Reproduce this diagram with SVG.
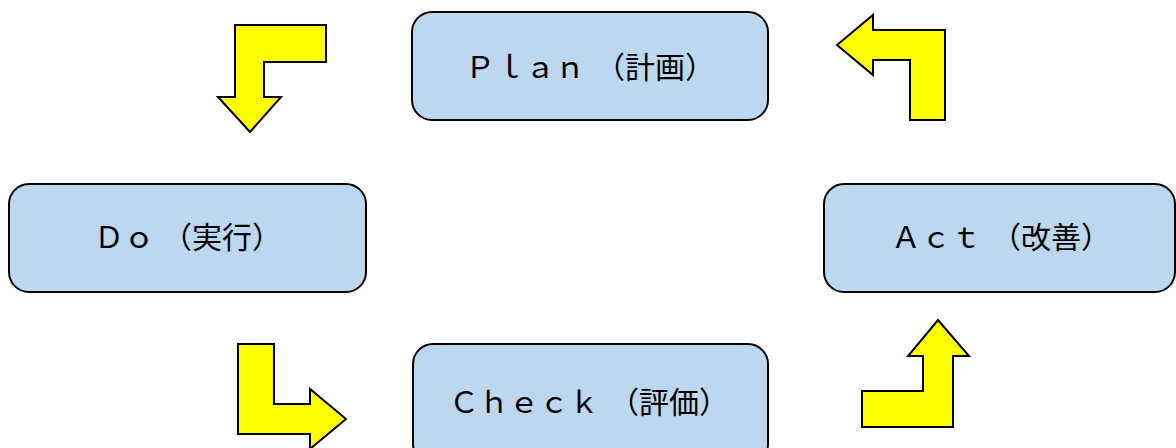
<svg xmlns="http://www.w3.org/2000/svg" width="1176" height="448" viewBox="0 0 1176 448">
<style>
.box{fill:#BDD7EE;stroke:#000;stroke-width:2}
.lbl{font-family:"Noto Sans CJK JP","Noto Sans CJK SC",sans-serif;font-size:30px;fill:#000;text-anchor:middle}
.arr{fill:#FFFF00;stroke:#000;stroke-width:2;stroke-linejoin:miter}
</style>
<rect width="1176" height="448" fill="#fff"/>
<g id="plan"><rect class="box" x="412" y="12" width="356" height="108" rx="20"/><text class="lbl" x="590" y="78">Ｐｌａｎ<tspan dx="10">（計画）</tspan></text></g>
<g id="do"><rect class="box" x="9" y="184" width="357" height="108" rx="20"/><text class="lbl" x="188" y="248">Ｄｏ<tspan dx="8">（実行）</tspan></text></g>
<g id="act"><rect class="box" x="824" y="184" width="351" height="108" rx="20"/><text class="lbl" x="1001" y="248">Ａｃｔ<tspan dx="10">（改善）</tspan></text></g>
<g id="check"><rect class="box" x="413" y="344" width="355" height="120" rx="20"/><text class="lbl" x="589" y="413">Ｃｈｅｃｋ<tspan dx="10">（評価）</tspan></text></g>
<g id="connectors">
<polygon class="arr" points="235,25 326,25 326,62 264,62 264,97 281,97 250,132 218,97 235,97"/>
<polygon class="arr" points="837,45 873,15 873,30 945,30 945,120 910,120 910,60 873,60 873,75"/>
<polygon class="arr" points="238,344 274,344 274,404 310,404 310,389 346,419 310,449 310,434 238,434"/>
<polygon class="arr" points="938,320 969,356 953,356 953,427 862,427 862,391 923,391 923,356 908,356"/>
</g>
</svg>
